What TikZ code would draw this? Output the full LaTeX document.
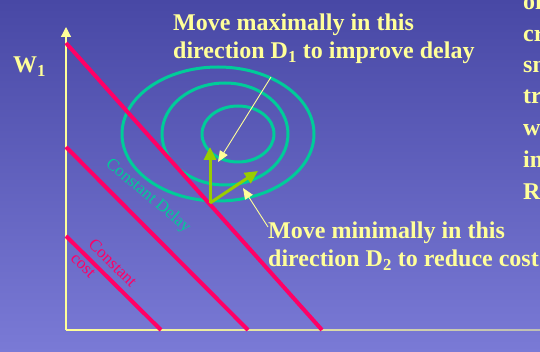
\documentclass[tikz,border=0pt]{standalone}
\usepackage{fontspec}
\setmainfont{Liberation Serif}
\usetikzlibrary{arrows.meta}
\definecolor{bgtop}{RGB}{72,72,165}
\definecolor{bgbot}{RGB}{122,122,214}
\definecolor{ltyel}{RGB}{255,255,153}
\definecolor{axgray}{RGB}{190,190,180}
\definecolor{costred}{RGB}{255,0,102}
\definecolor{delgreen}{RGB}{0,204,153}
\definecolor{dirgreen}{RGB}{153,204,0}
\begin{document}
\begin{tikzpicture}[x=1pt,y=-1pt,
  ytext/.style={text=ltyel,font=\fontsize{24}{28}\selectfont\bfseries,inner sep=0pt,anchor=base west},
  costline/.style={draw=costred,line width=4pt},
  delayell/.style={draw=delgreen,line width=3pt},
  dirarrow/.style={draw=dirgreen,line width=3pt,-{Triangle[width=12pt,length=13pt]}},
  callout/.style={draw=ltyel,line width=0.9pt,-{Triangle[width=9pt,length=11pt]}},
  axisline/.style={draw=ltyel,line width=1.2pt},
  lbl/.style={font=\fontsize{17}{18}\selectfont,inner sep=0pt}]
\shade[top color=bgtop,bottom color=bgbot] (0,0) rectangle (540,352);
\useasboundingbox (0,0) rectangle (540,352);
\clip (0,0) rectangle (540,352);
% axes
\coordinate (orig) at (66,330);
\coordinate (ytop) at (66,27);
\coordinate (xend) at (540,330);
\shade[left color=ltyel,right color=axgray] (66,329.3) rectangle (540,330.7);
\draw[axisline,-{Triangle[width=10pt,length=10pt]}] (orig) -- (ytop);
% constant cost lines
\coordinate (c1a) at (66,43);  \coordinate (c1b) at (322,330);
\coordinate (c2a) at (66,147); \coordinate (c2b) at (248,330);
\coordinate (c3a) at (66,236); \coordinate (c3b) at (161,330);
% constant delay ellipses
\draw[delayell] (218,134) ellipse [x radius=96pt, y radius=67pt];
\draw[delayell] (225,134) ellipse [x radius=63pt, y radius=51pt];
\draw[delayell] (238,134) ellipse [x radius=36pt, y radius=28pt];
\draw[costline] (c1a) -- (c1b);
\draw[costline] (c2a) -- (c2b);
\draw[costline] (c3a) -- (c3b);
% direction arrows
\coordinate (O) at (210,203);
\coordinate (d1) at (210,147);
\coordinate (d2) at (258,171);
\draw[dirarrow] (O) -- (d1);
\draw[dirarrow] (O) -- (d2);
% labels
\node[ytext] (w1) at (13,73) {W\textsubscript{1}};
\node[ytext] (max1) at (173,31) {Move maximally in this};
\node[ytext] (max2) at (173,59) {direction D\textsubscript{1} to improve delay};
\node[ytext] (min1) at (268,239) {Move minimally in this};
\node[ytext] (min2) at (268,267) {direction D\textsubscript{2} to reduce cost};
\coordinate (t1) at (271,77);
\coordinate (h1) at (218,162);
\coordinate (t2) at (268,227);
\coordinate (h2) at (243,188);
\draw[callout] (t1) -- (h1);
\draw[callout] (t2) -- (h2);
\node[lbl,text=delgreen,rotate=-40] (cdelay) at (148,196) {Constant Delay};
\node[lbl,text=costred,rotate=-45] (ccost1) at (113,263) {Constant};
\node[lbl,text=costred,rotate=-45] (ccost2) at (83,266) {cost};
% clipped text on the right
\node[ytext] (r1) at (523,10) {of};
\node[ytext] (r2) at (523,42) {cr};
\node[ytext] (r3) at (523,73) {sm};
\node[ytext] (r4) at (523,104) {tr};
\node[ytext] (r5) at (523,136) {w};
\node[ytext] (r6) at (523,168) {in};
\node[ytext] (r7) at (523,200) {R};
\end{tikzpicture}
\end{document}
